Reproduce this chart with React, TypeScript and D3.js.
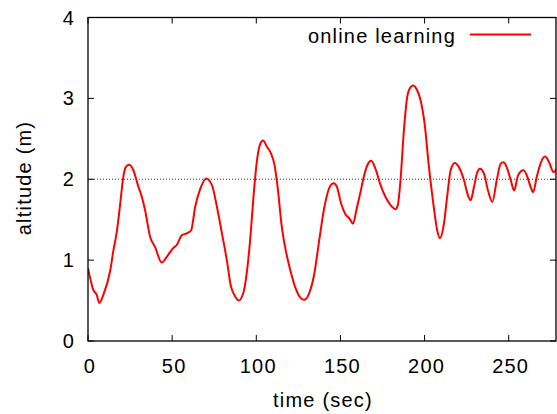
import React from 'react';
import * as d3 from 'd3';

// altitude trace
const timeSec = [
  0, 3.2, 5.2, 6.7, 9.1, 13.1, 15.1, 17.1, 19, 21,
  22.4, 24.4, 27, 29.6, 32, 33.9, 36.9, 39.9, 43.8, 46.8,
  50.2, 52.8, 55.8, 58.7, 61.3, 63.7, 66.7, 70.2, 73.6, 76.6,
  79.6, 82.5, 84.9, 87.5, 89.5, 92.5, 94.2, 96.4, 98.4, 100.4,
  102.4, 104, 106.4, 108.7, 110.7, 112.7, 115, 117.9, 120.3, 123.4,
  126.4, 128.4, 131.4, 134.2, 137.5, 140.5, 144, 146, 148, 150.4,
  152.9, 155.5, 157.5, 159.5, 161.9, 163.9, 165.9, 168.3, 170.8, 173.8,
  176.8, 179.8, 182.7, 184.1, 185.7, 187.7, 189.7, 191.7, 193.2, 195.6,
  197.6, 200, 202.6, 205.2, 207.5, 209.1, 211.5, 213.5, 215.5, 217.9,
  220.4, 223.4, 225.8, 227.4, 229.3, 231.4, 232.9, 235.3, 237.7, 240.3,
  242.9, 245.2, 246.8, 248.8, 251.2, 253.2, 255.6, 258.8, 261.1, 263.1,
  264.5, 266.7, 269, 271.6, 274, 276.6, 278, 279,
];
const altitude = [
  0.90, 0.63, 0.57, 0.47, 0.57, 0.86, 1.12, 1.35, 1.67, 2.03,
  2.15, 2.18, 2.11, 1.93, 1.78, 1.62, 1.29, 1.16, 0.97, 1.04,
  1.14, 1.19, 1.31, 1.33, 1.37, 1.66, 1.88, 2.01, 1.93, 1.66,
  1.33, 1.0, 0.68, 0.55, 0.50, 0.61, 0.82, 1.26, 1.80, 2.23,
  2.44, 2.48, 2.40, 2.32, 2.19, 1.90, 1.44, 1.08, 0.87, 0.65,
  0.53, 0.51, 0.59, 0.80, 1.26, 1.66, 1.92, 1.95, 1.90, 1.70,
  1.57, 1.51, 1.45, 1.62, 1.84, 2.03, 2.17, 2.23, 2.13, 1.93,
  1.78, 1.68, 1.63, 1.68, 1.99, 2.60, 3.02, 3.14, 3.16, 3.10,
  2.98, 2.69, 2.15, 1.70, 1.37, 1.27, 1.45, 1.80, 2.11, 2.20,
  2.15, 1.99, 1.80, 1.74, 1.90, 2.09, 2.13, 2.07, 1.86, 1.72,
  1.99, 2.19, 2.21, 2.15, 1.99, 1.86, 2.05, 2.11, 2.03, 1.90,
  1.84, 2.03, 2.20, 2.28, 2.21, 2.09, 2.11, 2.16,
];
const xTicks = [0, 50, 100, 150, 200, 250];
const yTicks = [0, 1, 2, 3, 4];
const targetAltitude = 2;
const seriesName = 'online learning';

const W = 557;
const H = 414;
const left = 88, right = 556, top = 17.5, bottom = 341;
const font = '"Liberation Sans", Arial, sans-serif';
const fs = 20;
const ls = 1.2;

export default function App() {
  const x = d3.scaleLinear().domain([0, 278.1]).range([left, right]);
  const y = d3.scaleLinear().domain([0, 4]).range([bottom, top]);

  const pts = timeSec.map((t, i) => [t, altitude[i]] as [number, number]);
  const line = d3.line<[number, number]>()
    .x(d => x(d[0]))
    .y(d => y(d[1]))
    .curve(d3.curveMonotoneX);

  const tickLen = 6;

  return (
    <svg width={W} height={H} style={{ position: 'absolute', left: 0, top: 0, background: '#fff' }}
      fontFamily={font} fontSize={fs}>
      <defs>
        <clipPath id="plot">
          <rect x={left} y={top} width={right - left} height={bottom - top} />
        </clipPath>
      </defs>

      {/* target altitude */}
      <line x1={left} x2={right} y1={y(targetAltitude)} y2={y(targetAltitude)}
        stroke="#000" strokeWidth={0.8} strokeDasharray="1,2" />

      <path d={line(pts) ?? ''} fill="none" stroke="#ff0000" strokeWidth={2}
        strokeLinejoin="round" clipPath="url(#plot)" />

      {/* ticks */}
      {xTicks.map(t => (
        <g key={'x' + t}>
          <line x1={x(t)} x2={x(t)} y1={bottom} y2={bottom - tickLen} stroke="#000" />
          <line x1={x(t)} x2={x(t)} y1={top} y2={top + tickLen} stroke="#000" />
          <text x={x(t) + 2} y={373} textAnchor="middle" letterSpacing={ls}>{t}</text>
        </g>
      ))}
      {yTicks.map(v => (
        <g key={'y' + v}>
          <line x1={left} x2={left + tickLen} y1={y(v)} y2={y(v)} stroke="#000" />
          <line x1={right} x2={right - tickLen} y1={y(v)} y2={y(v)} stroke="#000" />
          <text x={75} y={y(v) + 7} textAnchor="end" letterSpacing={ls}>{v}</text>
        </g>
      ))}

      <rect x={left} y={top} width={right - left} height={bottom - top}
        fill="none" stroke="#000" strokeWidth={1.3} />

      {/* legend */}
      <text x={456} y={43} textAnchor="end" letterSpacing={ls}>{seriesName}</text>
      <line x1={470} x2={531} y1={34.5} y2={34.5} stroke="#ff0000" strokeWidth={2} />

      {/* axis titles */}
      <text x={323} y={407} textAnchor="middle" letterSpacing={ls}>time (sec)</text>
      <text transform="translate(31,178) rotate(-90)" textAnchor="middle" letterSpacing={ls}>altitude (m)</text>
    </svg>
  );
}
